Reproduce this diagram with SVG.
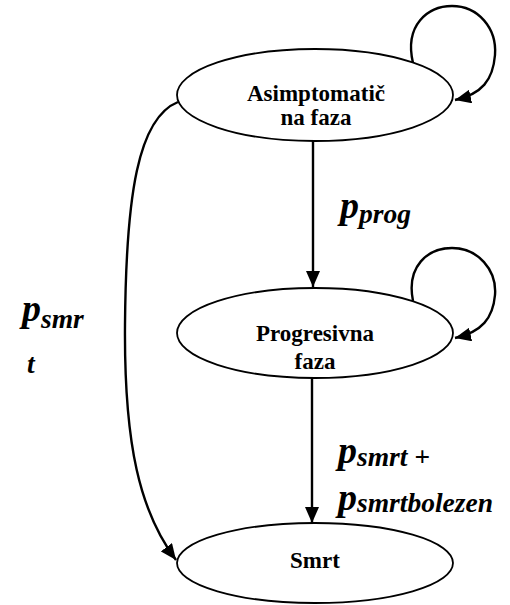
<svg xmlns="http://www.w3.org/2000/svg" width="510" height="605" viewBox="0 0 510 605">
<style>
.node ellipse{fill:#fff;stroke:#000;stroke-width:1.8}
.nt{font-family:"Liberation Serif","Times New Roman",serif;font-weight:bold;font-size:23px;fill:#000;text-anchor:middle}
.edge{fill:none;stroke:#000;stroke-width:2.4}
.lbl{font-family:"Liberation Serif","Times New Roman",serif;font-weight:bold;font-style:italic;fill:#000}
.big{font-size:38px}
.sub{font-size:27.5px}
</style>
<defs>
<marker id="ah" markerUnits="userSpaceOnUse" markerWidth="18" markerHeight="14" refX="16" refY="7" orient="auto">
<path d="M0,0 L16,7 L0,14 z" fill="#000"/>
</marker>
</defs>
<g id="edges">
<path class="edge" d="M413,63 C404,25 428,6 452,6 C478,6 497,28 495,55 C493,80 482,94 455,100" marker-end="url(#ah)"/>
<path class="edge" d="M413,301 C406,266 428,248 452,248 C478,248 497,270 495,295 C493,318 482,332 455,338" marker-end="url(#ah)"/>
<path class="edge" d="M313,141 L313,287" marker-end="url(#ah)"/>
<path class="edge" d="M312,378 L312,523" marker-end="url(#ah)"/>
<path class="edge" d="M178,102 C138,118 126,195 125,325 C124,445 140,512 176,560" marker-end="url(#ah)"/>
</g>
<g id="asimptomaticna" class="node">
<ellipse cx="315" cy="95" rx="138" ry="46"/>
<text class="nt" x="316" y="101">Asimptomatič</text>
<text class="nt" x="316" y="125">na faza</text>
</g>
<g id="progresivna" class="node">
<ellipse cx="315" cy="333" rx="138" ry="45"/>
<text class="nt" x="315" y="341">Progresivna</text>
<text class="nt" x="315" y="369">faza</text>
</g>
<g id="smrt" class="node">
<ellipse cx="315" cy="563" rx="138" ry="40"/>
<text class="nt" x="315" y="568">Smrt</text>
</g>
<g id="labels">
<text class="lbl" x="340" y="218"><tspan class="big">p</tspan><tspan class="sub" dy="5">prog</tspan></text>
<text class="lbl" x="22" y="321"><tspan class="big">p</tspan><tspan class="sub" dy="7">smr</tspan></text>
<text class="lbl sub" x="27" y="373">t</text>
<text class="lbl" x="338" y="463"><tspan class="big">p</tspan><tspan class="sub" dy="3">smrt +</tspan></text>
<text class="lbl" x="338" y="510"><tspan class="big">p</tspan><tspan class="sub" dy="2">smrtbolezen</tspan></text>
</g>
</svg>
